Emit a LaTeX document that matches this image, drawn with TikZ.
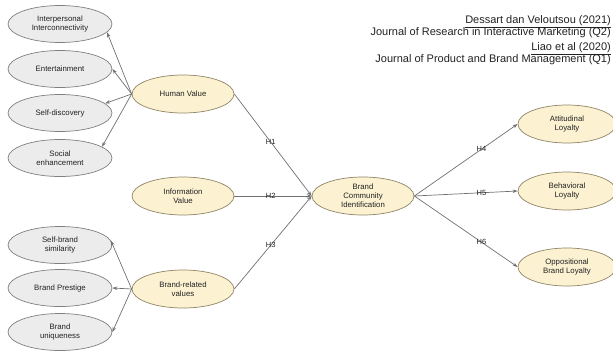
\documentclass[tikz,border=0pt]{standalone}
\usepackage{fontspec}
\setmainfont{Liberation Sans}
\usetikzlibrary{shapes.geometric,arrows.meta}
\definecolor{yfill}{HTML}{FCF2D2}
\definecolor{ydraw}{HTML}{8F8466}
\definecolor{gfill}{HTML}{ECECEC}
\definecolor{gdraw}{HTML}{808080}
\definecolor{arr}{HTML}{707070}
\definecolor{txt}{HTML}{222222}
\begin{document}
\begin{tikzpicture}[x=1pt,y=-1pt,
  base/.style={ellipse,minimum width=102pt,minimum height=38pt,inner sep=0pt,line width=0.7pt,align=center,text=txt,font=\fontsize{7.8}{9.2}\selectfont},
  grey/.style={base,fill=gfill,draw=gdraw,minimum width=104pt,minimum height=37pt},
  yel/.style={base,fill=yfill,draw=ydraw},
  conn/.style={draw=arr,line width=0.7pt,-{Stealth[length=5pt,width=3.5pt]}},
  hlab/.style={font=\fontsize{7.5}{8}\selectfont,inner sep=0pt,text=txt},
  reftxt/.style={anchor=base east,inner sep=0pt,text=txt,font=\fontsize{11}{13}\selectfont}]
\useasboundingbox (0,0) rectangle (613,354);
% left grey
\node[grey] (ii) at (60,24) {Interpersonal\\Interconnectivity};
\node[grey] (en) at (60,69) {Entertainment};
\node[grey] (sd) at (60,113) {Self-discovery};
\node[grey] (se) at (60,158) {Social\\enhancement};
\node[grey] (sb) at (60,245) {Self-brand\\similarity};
\node[grey] (bp) at (60,288) {Brand Prestige};
\node[grey] (bu) at (60,332) {Brand\\uniqueness};
% middle
\node[yel] (hv) at (183,94) {Human Value};
\node[yel] (iv) at (183,196) {Information\\Value};
\node[yel] (br) at (183,289) {Brand-related\\values};
\node[yel] (bci) at (363,196) {Brand\\Community\\Identification};
% right
\node[yel,minimum width=98pt] (al) at (567,124) {Attitudinal\\Loyalty};
\node[yel,minimum width=98pt] (bl) at (567,191) {Behavioral\\Loyalty};
\node[yel,minimum width=98pt] (ol) at (567,267) {Oppositional\\Brand Loyalty};
% arrows to grey
\draw[conn] (hv.west) -- (ii.-10);
\draw[conn] (hv.west) -- (en.east);
\draw[conn] (hv.west) -- (sd.12);
\draw[conn] (hv.west) -- (se.15);
\draw[conn] (br.west) -- (sb.5);
\draw[conn] (br.west) -- (bp.east);
\draw[conn] (br.west) -- (bu.east);
% hypotheses
\draw[conn] (hv.east) -- node[hlab,pos=0.47]{H1} (bci.west);
\draw[conn] (iv.east) -- node[hlab,pos=0.47]{H2} (bci.west);
\draw[conn] (br.east) -- node[hlab,pos=0.47]{H3} (bci.west);
\draw[conn] (bci.east) -- node[hlab,pos=0.65]{H4} (al.west);
\draw[conn] (bci.east) -- node[hlab,pos=0.65]{H5} (bl.west);
\draw[conn] (bci.east) -- node[hlab,pos=0.65]{H6} (ol.west);
% references
\node[reftxt] (r1) at (611,23.5) {\underline{Dessart dan Veloutsou (2021)}};
\node[reftxt] (r2) at (611,35.7) {Journal of Research in Interactive Marketing (Q2)};
\node[reftxt] (r3) at (611,50.5) {\underline{Liao et al (2020)}};
\node[reftxt] (r4) at (611,62.7) {Journal of Product and Brand Management (Q1)};
\end{tikzpicture}
\end{document}
